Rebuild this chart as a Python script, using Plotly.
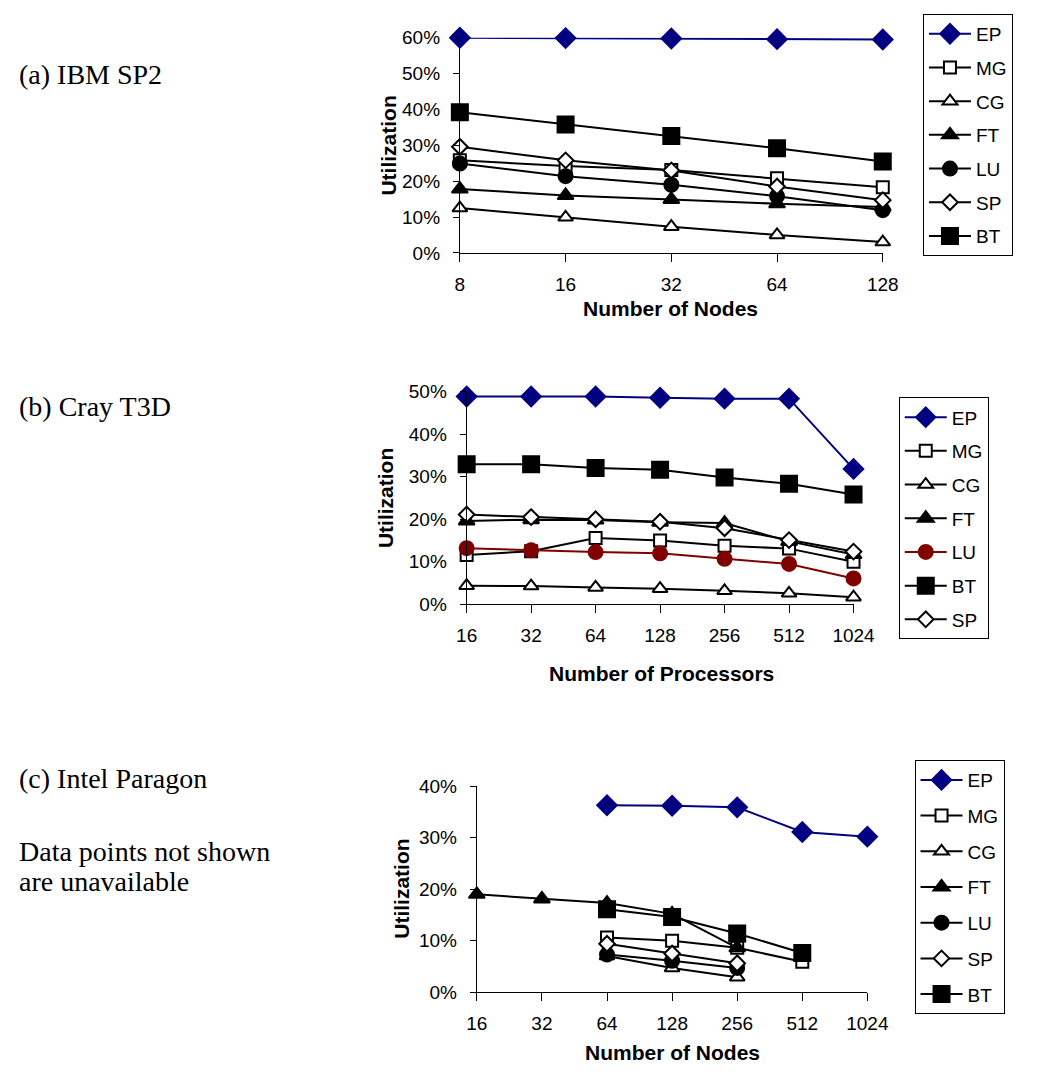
import plotly.graph_objects as go

W, H = 1045, 1074

# ---------------- data ----------------
series_a = ["EP", "MG", "CG", "FT", "LU", "SP", "BT"]
nodes_a = ["8", "16", "32", "64", "128"]
a_EP = [60.0, 59.9, 59.8, 59.6, 59.5]
a_MG = [25.8, 24.2, 23.1, 20.8, 18.3]
a_CG = [12.5, 9.9, 7.3, 5.0, 3.0]
a_FT = [17.8, 16.0, 14.9, 13.7, 12.8]
a_LU = [24.9, 21.4, 19.0, 15.8, 11.9]
a_SP = [29.6, 25.8, 23.0, 18.5, 14.7]
a_BT = [39.2, 35.8, 32.6, 29.2, 25.5]

series_b = ["EP", "MG", "CG", "FT", "LU", "BT", "SP"]
procs_b = ["16", "32", "64", "128", "256", "512", "1024"]
b_EP = [48.8, 48.8, 48.8, 48.5, 48.3, 48.3, 31.8]
b_MG = [11.6, 12.5, 15.6, 15.0, 13.8, 13.1, 10.0]
b_CG = [4.4, 4.3, 4.0, 3.7, 3.2, 2.6, 1.7]
b_FT = [19.6, 19.9, 19.8, 19.3, 19.1, 14.8, 11.7]
b_LU = [13.2, 12.7, 12.3, 12.0, 10.7, 9.5, 6.1]
b_BT = [32.9, 32.9, 32.0, 31.6, 29.8, 28.3, 25.8]
b_SP = [21.1, 20.5, 20.0, 19.4, 17.9, 15.1, 12.4]

series_c = ["EP", "MG", "CG", "FT", "LU", "SP", "BT"]
nodes_c = ["16", "32", "64", "128", "256", "512", "1024"]
c_EP = [None, None, 36.3, 36.2, 35.9, 31.1, 30.2]
c_MG = [None, None, 10.6, 10.0, 8.6, 5.9, None]
c_CG = [None, None, 7.0, 4.7, 2.9, None, None]
c_FT = [19.0, 18.1, 17.3, 15.2, 8.6, None, None]
c_LU = [None, None, 7.3, 6.1, 4.7, None, None]
c_SP = [None, None, 9.4, 7.5, 5.6, None, None]
c_BT = [None, None, 16.1, 14.6, 11.4, 7.6, None]

# ---------------- styles ----------------
NAVY = "#000080"
DRED = "#800000"
BLACK = "#000000"
style = {
    "EP": dict(symbol="diamond", size=15, fill=NAVY, line=NAVY),
    "MG": dict(symbol="square", size=12, fill="white", line=BLACK),
    "CG": dict(symbol="triangle-up", size=13, fill="white", line=BLACK),
    "FT": dict(symbol="triangle-up", size=14, fill=BLACK, line=BLACK),
    "LU": dict(symbol="circle", size=14, fill=BLACK, line=BLACK),
    "SP": dict(symbol="diamond", size=12, fill="white", line=BLACK),
    "BT": dict(symbol="square", size=16, fill=BLACK, line=BLACK),
}

SANS = "Liberation Sans, Arial, sans-serif"
SERIF = "Liberation Serif, Times New Roman, serif"
TICK_FS = 19
TITLE_FS = 21
LEG_FS = 19
CAP_FS = 28

def px_x(p):
    return p / W

def px_y(p):
    return 1 - p / H

fig = go.Figure()

panels = [
    dict(key="", tk="4", cats=nodes_a, names=series_a,
         data=dict(EP=a_EP, MG=a_MG, CG=a_CG, FT=a_FT, LU=a_LU, SP=a_SP, BT=a_BT),
         colors={}, x0=463.5, x1=900.2, ytop=28.3, ybot=247.7, ymax=60,
         legend="legend", lx=941.7, ly=4, gap=6),
    dict(key="2", tk="5", cats=procs_b, names=series_b,
         data=dict(EP=b_EP, MG=b_MG, CG=b_CG, FT=b_FT, LU=b_LU, BT=b_BT, SP=b_SP),
         colors={"LU": DRED}, x0=470.5, x1=870, ytop=389.0, ybot=606.3, ymax=50,
         legend="legend2", lx=916.7, ly=395, gap=6),
    dict(key="3", tk="6", cats=nodes_c, names=series_c,
         data=dict(EP=c_EP, MG=c_MG, CG=c_CG, FT=c_FT, LU=c_LU, SP=c_SP, BT=c_BT),
         colors={}, x0=481, x1=884.3, ytop=791.7, ybot=1001.7, ymax=40,
         legend="legend3", lx=933, ly=765, gap=8),
]

for p in panels:
    k = p["key"]
    for name in p["names"]:
        st = style[name]
        lc = p["colors"].get(name, st["line"])
        fc = p["colors"].get(name, st["fill"])
        fig.add_trace(go.Scatter(
            x=p["cats"], y=p["data"][name], name=name, mode="lines+markers",
            xaxis="x" + k, yaxis="y" + k, legend=p["legend"],
            legendgroup=p["legend"] + name,
            cliponaxis=False, connectgaps=False,
            line=dict(color=lc, width=2),
            marker=dict(symbol=st["symbol"], size=st["size"], color=fc,
                        line=dict(color=lc, width=2)),
        ))
    dom = [px_x(p["x0"]), px_x(p["x1"])]
    xa = dict(domain=dom, type="category",
              range=[0, len(p["cats"]) - 1], anchor="y" + k,
              showline=True, linecolor=BLACK, linewidth=1,
              ticks="outside", ticklen=8, tickcolor=BLACK, tickwidth=1,
              showgrid=False, zeroline=False, ticklabelstandoff=6,
              tickfont=dict(family=SANS, size=TICK_FS, color=BLACK))
    # companion axis giving the upward half of the crossing tick marks
    xt = dict(domain=dom, type="linear", range=[0, len(p["cats"]) - 1],
              tick0=0, dtick=1, anchor="y" + k, overlaying="x" + k,
              showline=False, ticks="inside", ticklen=6, tickcolor=BLACK,
              tickwidth=1, showticklabels=False, showgrid=False, zeroline=False)
    ya = dict(domain=[px_y(p["ybot"]), px_y(p["ytop"])],
              range=[0, p["ymax"]], dtick=10, ticksuffix="%", anchor="x" + k,
              showline=True, linecolor=BLACK, linewidth=1,
              ticks="outside", ticklen=6, tickcolor=BLACK, tickwidth=1,
              showgrid=False, zeroline=False, ticklabelstandoff=9,
              tickfont=dict(family=SANS, size=TICK_FS, color=BLACK))
    fig.update_layout(**{"xaxis" + k: xa, "yaxis" + k: ya, "xaxis" + p["tk"]: xt})
    fig.update_layout(**{p["legend"]: dict(
        x=px_x(p["lx"]), y=px_y(p["ly"]), xanchor="left", yanchor="top",
        bgcolor="white", bordercolor=BLACK, borderwidth=1,
        font=dict(family=SANS, size=LEG_FS, color=BLACK),
        tracegroupgap=p["gap"], itemwidth=42, itemsizing="trace")})

annos = []
def add_text(text, x, y, size, family, bold=False, angle=0, xanchor="center"):
    annos.append(dict(text=("<b>%s</b>" % text) if bold else text,
                      x=px_x(x), y=px_y(y), xref="paper", yref="paper",
                      xanchor=xanchor, yanchor="middle", showarrow=False,
                      textangle=angle, font=dict(family=family, size=size, color=BLACK)))

# axis titles
add_text("Utilization", 389.6, 138, TITLE_FS, SANS, bold=True, angle=-90)
add_text("Number of Nodes", 681.4, 304, TITLE_FS, SANS, bold=True)
add_text("Utilization", 386, 498, TITLE_FS, SANS, bold=True, angle=-90)
add_text("Number of Processors", 671.8, 677, TITLE_FS, SANS, bold=True)
add_text("Utilization", 403, 896, TITLE_FS, SANS, bold=True, angle=-90)
add_text("Number of Nodes", 682.9, 1063, TITLE_FS, SANS, bold=True)

# panel captions
add_text("(a) IBM SP2", 6, 66, CAP_FS, SERIF, xanchor="left")
add_text("(b) Cray T3D", 6, 404, CAP_FS, SERIF, xanchor="left")
add_text("(c) Intel Paragon", 6, 784, CAP_FS, SERIF, xanchor="left")
add_text("Data points not shown", 6, 858, CAP_FS, SERIF, xanchor="left")
add_text("are unavailable", 6, 889, CAP_FS, SERIF, xanchor="left")

fig.update_layout(
    width=W, height=H, margin=dict(l=0, r=0, t=0, b=0),
    paper_bgcolor="white", plot_bgcolor="white",
    annotations=annos, showlegend=True,
)

fig.write_html("out.html")
